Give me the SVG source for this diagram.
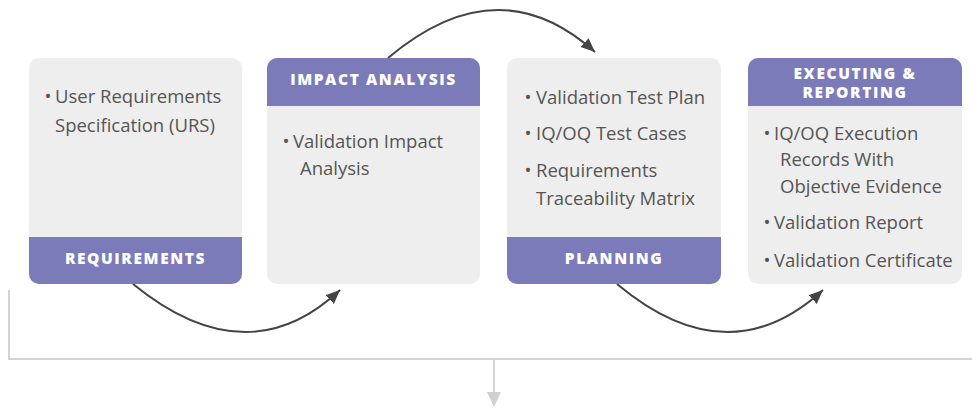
<svg xmlns="http://www.w3.org/2000/svg" width="972" height="408" viewBox="0 0 972 408">
<style>
.card{fill:#eeeeee}
.band{fill:#7c7bb9}
.title{font-family:"Open Sans","Liberation Sans",sans-serif;font-weight:800;font-size:15.5px;letter-spacing:1.6px;fill:#ffffff;text-anchor:middle}
.body{font-family:"Open Sans","Liberation Sans",sans-serif;font-size:18.5px;fill:#555555}
.dot{font-family:"Open Sans","Liberation Sans",sans-serif;font-size:18.5px;fill:#555555;text-anchor:middle}
.conn{fill:none;stroke:#444444;stroke-width:2}
.flow{fill:none;stroke:#d4d4d4;stroke-width:2}
</style>
<defs>
<marker id="ah" markerUnits="userSpaceOnUse" markerWidth="16" markerHeight="14" refX="14" refY="6" orient="auto">
<path d="M0,0 L14,6 L0,12 Z" fill="#444444"/>
</marker>
</defs>
<g id="connectors">
<path class="conn" d="M388,58 Q498,-35 595,52" marker-end="url(#ah)"/>
<path class="conn" d="M133,284 Q247,377 340,290" marker-end="url(#ah)"/>
<path class="conn" d="M617,284 Q728,377 823,290" marker-end="url(#ah)"/>
<path class="flow" d="M9,290 V359 H972 M494,359 V394"/>
<polygon points="487,392 501,392 494,407" fill="#d0d0d0"/>
</g>
<g id="requirements">
<rect class="card" x="29" y="58" width="213" height="226" rx="10"/>
<path class="band" d="M29,237 H242 V274 A10,10 0 0 1 232,284 H39 A10,10 0 0 1 29,274 Z"/>
<text class="title" x="135.5" y="264">REQUIREMENTS</text>
<text class="dot" x="48" y="103">•</text>
<text class="body" x="55" y="103">User Requirements</text>
<text class="body" x="55" y="132">Specification (URS)</text>
</g>
<g id="impact-analysis">
<rect class="card" x="267" y="58" width="213" height="226" rx="10"/>
<path class="band" d="M267,106 V68 A10,10 0 0 1 277,58 H470 A10,10 0 0 1 480,68 V106 Z"/>
<text class="title" x="373.5" y="85">IMPACT ANALYSIS</text>
<text class="dot" x="286" y="148">•</text>
<text class="body" x="293" y="148">Validation Impact</text>
<text class="body" x="300" y="175">Analysis</text>
</g>
<g id="planning">
<rect class="card" x="507" y="58" width="214" height="226" rx="10"/>
<path class="band" d="M507,237 H721 V274 A10,10 0 0 1 711,284 H517 A10,10 0 0 1 507,274 Z"/>
<text class="title" x="614" y="264">PLANNING</text>
<text class="dot" x="528" y="104">•</text>
<text class="body" x="536" y="104">Validation Test Plan</text>
<text class="dot" x="528" y="140">•</text>
<text class="body" x="536" y="140">IQ/OQ Test Cases</text>
<text class="dot" x="528" y="177">•</text>
<text class="body" x="536" y="177">Requirements</text>
<text class="body" x="536" y="205">Traceability Matrix</text>
</g>
<g id="executing-reporting">
<rect class="card" x="748" y="58" width="214" height="226" rx="10"/>
<path class="band" d="M748,106 V68 A10,10 0 0 1 758,58 H952 A10,10 0 0 1 962,68 V106 Z"/>
<text class="title" x="855" y="79">EXECUTING &amp;</text>
<text class="title" x="855" y="98">REPORTING</text>
<text class="dot" x="767" y="140">•</text>
<text class="body" x="774" y="140">IQ/OQ Execution</text>
<text class="body" x="780" y="166">Records With</text>
<text class="body" x="780" y="193">Objective Evidence</text>
<text class="dot" x="767" y="229">•</text>
<text class="body" x="774" y="229">Validation Report</text>
<text class="dot" x="767" y="267">•</text>
<text class="body" x="774" y="267">Validation Certificate</text>
</g>
</svg>
